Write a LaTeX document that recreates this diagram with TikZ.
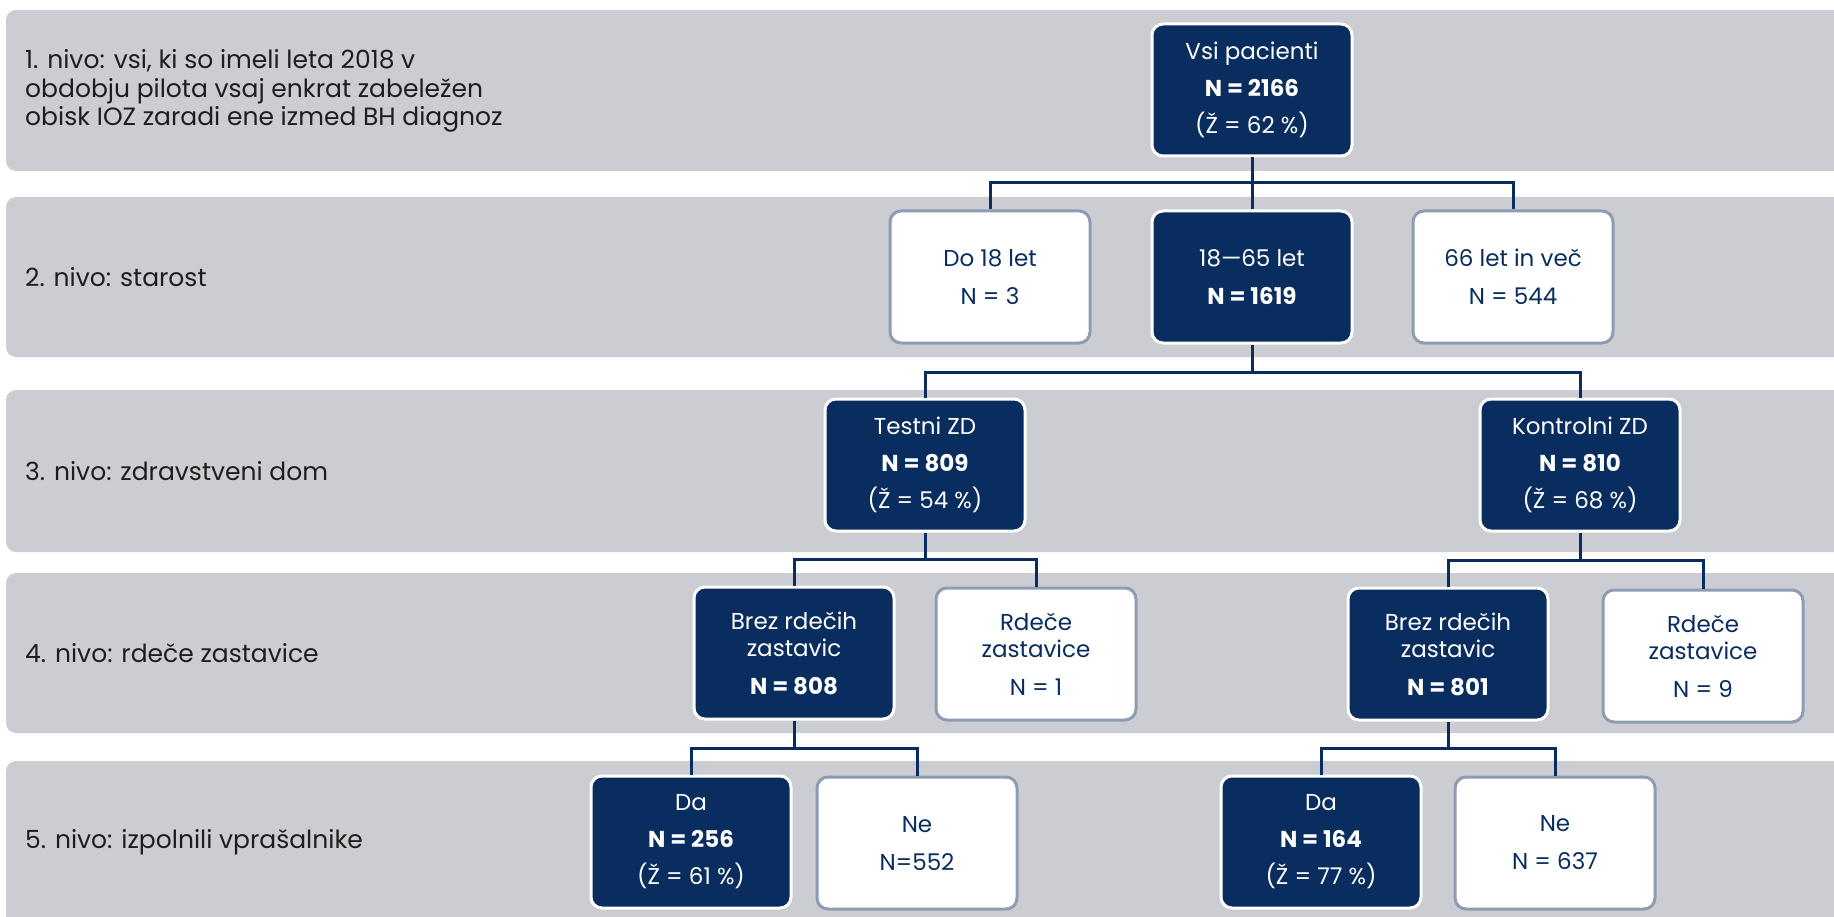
\documentclass[tikz,border=0pt]{standalone}
\usepackage{fontspec}
\setmainfont{Poppins}
\definecolor{navy}{RGB}{8,45,94}
\definecolor{bandgray}{RGB}{204,205,210}
\definecolor{edgegray}{RGB}{140,156,180}
\definecolor{labeltext}{RGB}{30,30,30}
\begin{document}
\begin{tikzpicture}[x=1pt,y=-1pt,
  band/.style={fill=bandgray,rounded corners=10pt},
  darkbox/.style={draw=white,line width=3pt,fill=navy,text=white,rounded corners=11pt,
    minimum width=200pt,minimum height=132pt,align=center,inner sep=0pt,
    font=\fontsize{23}{27}\selectfont},
  lightbox/.style={darkbox,draw=edgegray,fill=white,text=navy},
  conn/.style={draw=navy,line width=3pt,line join=miter},
  lvl/.style={anchor=west,align=left,text=labeltext,inner sep=0pt,
    font=\fontsize{25}{28.5}\selectfont}
]
\useasboundingbox (0,0) rectangle (1834,917);

% level bands
\fill[band] (6,10) rectangle (1860,171);
\fill[band] (6,197) rectangle (1860,357);
\fill[band] (6,390) rectangle (1860,552);
\fill[band] (6,573) rectangle (1860,733);
\fill[band] (6,761) rectangle (1860,940);

% level captions
\node[lvl] (cap1) at (25,91) {1. nivo: vsi, ki so imeli leta 2018 v\\obdobju pilota vsaj enkrat zabeležen\\obisk IOZ zaradi ene izmed BH diagnoz};
\node[lvl] (cap2) at (25,277) {2. nivo: starost};
\node[lvl] (cap3) at (25,471) {3. nivo: zdravstveni dom};
\node[lvl] (cap4) at (25,653) {4. nivo: rdeče zastavice};
\node[lvl] (cap5) at (25,842) {5. nivo: izpolnili vprašalnike};

% level 1
\node[darkbox] (all) at (1252,90) {Vsi pacienti\\[10pt]\textbf{N = 2166}\\[10pt](Ž = 62 \%)};

% level 2
\node[lightbox] (young) at (990,277) {Do 18 let\\[11pt]N = 3};
\node[darkbox] (mid) at (1252,277) {18—65 let\\[11pt]\textbf{N = 1619}};
\node[lightbox] (old) at (1513,277) {66 let in več\\[11pt]N = 544};

% level 3
\node[darkbox] (test) at (925,465) {Testni ZD\\[10pt]\textbf{N = 809}\\[10pt](Ž = 54 \%)};
\node[darkbox] (ctrl) at (1580,465) {Kontrolni ZD\\[10pt]\textbf{N = 810}\\[10pt](Ž = 68 \%)};

% level 4
\node[darkbox] (tnoflag) at (794,653) {Brez rdečih\\zastavic\\[11pt]\textbf{N = 808}};
\node[lightbox] (tflag) at (1036,654) {Rdeče\\zastavice\\[11pt]N = 1};
\node[darkbox] (cnoflag) at (1448,654) {Brez rdečih\\zastavic\\[11pt]\textbf{N = 801}};
\node[lightbox] (cflag) at (1703,656) {Rdeče\\zastavice\\[11pt]N = 9};

% level 5
\node[darkbox] (tyes) at (691,842) {Da\\[10pt]\textbf{N = 256}\\[10pt](Ž = 61 \%)};
\node[lightbox] (tno) at (917,843) {Ne\\[11pt]N=552};
\node[darkbox] (cyes) at (1321,842) {Da\\[10pt]\textbf{N = 164}\\[10pt](Ž = 77 \%)};
\node[lightbox] (cno) at (1555,843) {Ne\\[11pt]N = 637};

% connectors
\draw[conn] (all.south) -- (all.south |- 0,183);
\draw[conn] (young.north) -- (young.north |- 0,183) -- (old.north |- 0,183) -- (old.north);
\draw[conn] (mid.north) -- (mid.north |- 0,183);

\draw[conn] (mid.south) -- (mid.south |- 0,372);
\draw[conn] (test.north) -- (test.north |- 0,372) -- (ctrl.north |- 0,372) -- (ctrl.north);

\draw[conn] (test.south) -- (test.south |- 0,559);
\draw[conn] (tnoflag.north) -- (tnoflag.north |- 0,559) -- (tflag.north |- 0,559) -- (tflag.north);
\draw[conn] (ctrl.south) -- (ctrl.south |- 0,560);
\draw[conn] (cnoflag.north) -- (cnoflag.north |- 0,560) -- (cflag.north |- 0,560) -- (cflag.north);

\draw[conn] (tnoflag.south) -- (tnoflag.south |- 0,748);
\draw[conn] (tyes.north) -- (tyes.north |- 0,748) -- (tno.north |- 0,748) -- (tno.north);
\draw[conn] (cnoflag.south) -- (cnoflag.south |- 0,748);
\draw[conn] (cyes.north) -- (cyes.north |- 0,748) -- (cno.north |- 0,748) -- (cno.north);
\end{tikzpicture}
\end{document}
